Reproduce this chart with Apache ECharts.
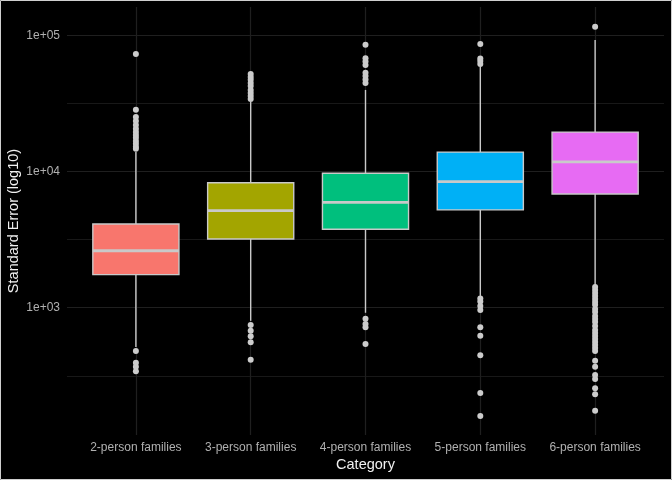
<!DOCTYPE html>
<html>
<head>
<meta charset="utf-8">
<script src="https://cdn.jsdelivr.net/npm/echarts@6/dist/echarts.min.js"></script>
<style>
  html, body { margin: 0; padding: 0; background: #000; }
  #cht { width: 672px; height: 480px; }
</style>
</head>
<body>
<div id="cht"></div>
<script>
// categories and box stats
var categories = ['2-person families', '3-person families', '4-person families', '5-person families', '6-person families'];
var whiskerLow  = [515, 801, 918, 1220, 1470];
var q1          = [1750, 3200, 3770, 5230, 6840];
var median      = [2620, 5160, 5940, 8440, 11800];
var q3          = [4120, 8280, 9710, 13900, 19500];
var whiskerHigh = [13900, 32500, 39800, 59000, 92700];

var outliers2 = [73100, 28400, 25200, 23500, 22000, 20600, 19500, 18600, 17700, 16800, 16000, 15200, 14700,
                 481, 394, 369, 341];
var outliers3 = [52100, 49500, 47200, 44800, 42600, 39800, 37800, 35900, 34100,
                 746, 678, 617, 557, 415];
var outliers4 = [85600, 68000, 64400, 60700, 53300, 50400, 47500, 44800,
                 830, 758, 718, 541];
var outliers5 = [86600, 67800, 65000, 61800,
                 1170, 1110, 1030, 962, 718, 622, 447, 236, 160];
var outliers6 = [116000,
                 1420, 1350, 1280, 1220, 1160, 1100, 1050, 980, 931, 869, 826, 785, 735, 686,
                 652, 619, 589, 560, 532, 506, 481, 408, 368, 321, 299, 256, 231, 175];

var yTickValues = [1000, 10000, 100000];
var yTickLabels = ['1e+03', '1e+04', '1e+05'];
var yMinorValues = [316.2, 3162, 31620];

var colors = ['#F8766D', '#A3A500', '#00BF7D', '#00B0F6', '#E76BF3'];

var lg = function (v) { return Math.log10(v); };

var boxData = categories.map(function (c, i) {
    return [i, lg(whiskerLow[i]), lg(q1[i]), lg(median[i]), lg(q3[i]), lg(whiskerHigh[i])];
});
var outlierData = [];
[outliers2, outliers3, outliers4, outliers5, outliers6].forEach(function (arr, i) {
    arr.forEach(function (v) { outlierData.push([i, lg(v)]); });
});

var gray = '#c9c9c9';
var font = 'Liberation Sans, Arial, sans-serif';

var config = {
    backgroundColor: '#000',
    animation: false,
    grid: { left: 67, right: 8, top: 7, bottom: 45, outerBoundsMode: 'none', containLabel: false },
    graphic: [{
        type: 'rect', silent: true,
        shape: { x: 0.5, y: 0.5, width: 671, height: 479 },
        style: { fill: 'none', stroke: '#cfcfcf', lineWidth: 1 }
    }],
    xAxis: {
        type: 'value', min: -0.6, max: 4.6,
        axisLine: { show: false },
        axisTick: { show: false, customValues: [0, 1, 2, 3, 4] },
        axisLabel: {
            customValues: [0, 1, 2, 3, 4],
            formatter: function (v) { return categories[Math.round(v)]; },
            color: '#b0b0b0', fontSize: 12, fontFamily: font, margin: 7
        },
        splitLine: { show: true, lineStyle: { color: '#1f1f1f', width: 1.2 } },
        name: 'Category', nameLocation: 'middle', nameGap: 22, nameMoveOverlap: false,
        nameTextStyle: { color: '#f0f0f0', fontSize: 14.5, fontFamily: font }
    },
    yAxis: [{
        type: 'value', min: 2.065, max: 5.209,
        axisLine: { show: false },
        axisTick: { show: false, customValues: yTickValues.map(lg) },
        axisLabel: {
            customValues: yTickValues.map(lg),
            formatter: function (v) { return yTickLabels[yTickValues.map(lg).findIndex(function (t) { return Math.abs(t - v) < 1e-6; })]; },
            color: '#b0b0b0', fontSize: 12, fontFamily: font, margin: 7
        },
        splitLine: { show: true, lineStyle: { color: '#1f1f1f', width: 1.2 } },
        name: 'Standard Error (log10)', nameLocation: 'middle', nameGap: 46, nameRotate: 90, nameMoveOverlap: false,
        nameTextStyle: { color: '#f0f0f0', fontSize: 14.5, fontFamily: font }
    }, {
        type: 'value', min: 2.065, max: 5.209,
        axisLine: { show: false },
        axisTick: { show: false, customValues: yMinorValues.map(lg) },
        axisLabel: { show: false },
        splitLine: { show: true, lineStyle: { color: '#181818', width: 1 } }
    }],
    series: [{
        type: 'custom',
        data: boxData,
        z: 2,
        renderItem: function (params, api) {
            var x = api.value(0);
            var lo = api.coord([x, api.value(1)]);
            var b1 = api.coord([x, api.value(2)]);
            var md = api.coord([x, api.value(3)]);
            var b3 = api.coord([x, api.value(4)]);
            var hi = api.coord([x, api.value(5)]);
            var w = api.size([0.75, 0])[0];
            var cx = lo[0];
            return {
                type: 'group',
                children: [
                    { type: 'line', shape: { x1: cx, y1: hi[1], x2: cx, y2: b3[1] }, style: { stroke: gray, lineWidth: 1.4 } },
                    { type: 'line', shape: { x1: cx, y1: b1[1], x2: cx, y2: lo[1] }, style: { stroke: gray, lineWidth: 1.4 } },
                    { type: 'rect', shape: { x: cx - w / 2, y: b3[1], width: w, height: b1[1] - b3[1] },
                      style: { fill: colors[params.dataIndex], stroke: gray, lineWidth: 1.4 } },
                    { type: 'line', shape: { x1: cx - w / 2, y1: md[1], x2: cx + w / 2, y2: md[1] }, style: { stroke: gray, lineWidth: 2.8 } }
                ]
            };
        }
    }, {
        type: 'scatter',
        data: outlierData,
        z: 3,
        symbolSize: 6,
        itemStyle: { color: '#cccccc', opacity: 1 }
    }]
};

var myChart = echarts.init(document.getElementById('cht'));
myChart.setOption(config);
</script>
</body>
</html>
